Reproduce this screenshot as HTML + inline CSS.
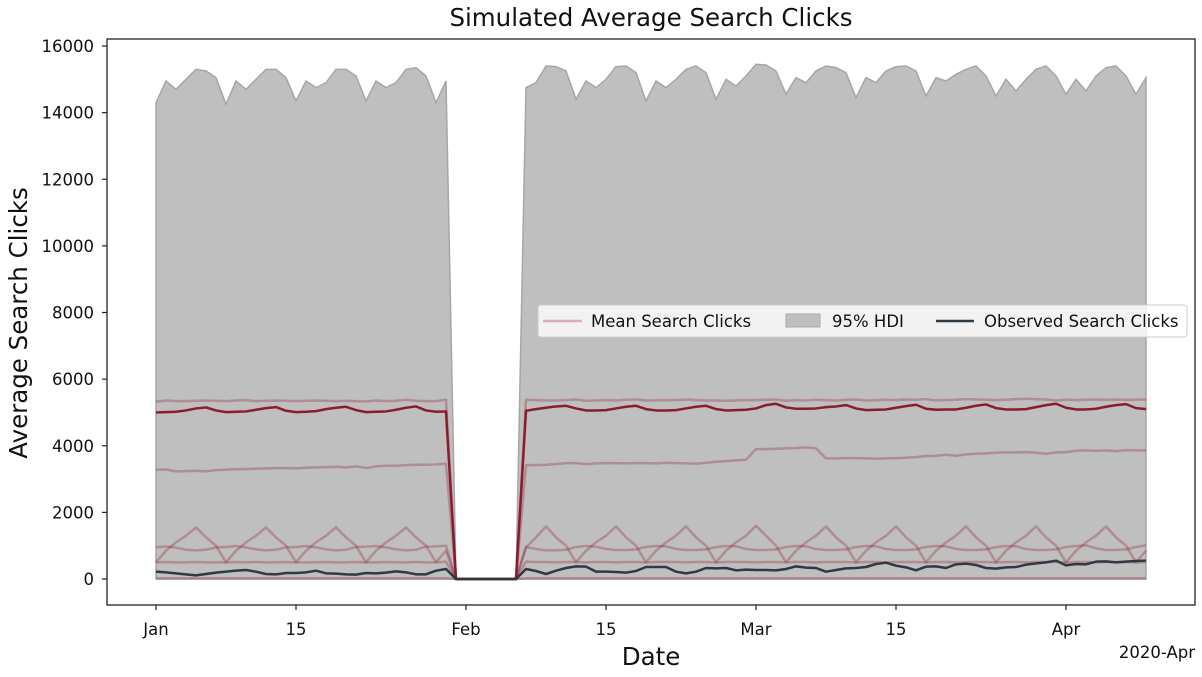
<!DOCTYPE html>
<html><head><meta charset="utf-8"><style>
body{margin:0;background:#fff;}
svg{display:block;font-family:"DejaVu Sans","Liberation Sans",sans-serif;}
</style></head><body>
<svg id="chart" width="1202" height="677">
<text x="651" y="26" text-anchor="middle" font-size="24.5" fill="#111">Simulated Average Search Clicks</text>
<g id="plot"></g>
<rect x="107" y="39" width="1088" height="566" fill="none" stroke="#222" stroke-width="1.3"/>
<g id="yaxis"></g>
<g id="xaxis"></g>
<text x="651" y="665" text-anchor="middle" font-size="24.5" fill="#111">Date</text>
<text x="1157" y="658" text-anchor="middle" font-size="16.5" fill="#111">2020-Apr</text>
<text transform="translate(27,323) rotate(-90)" text-anchor="middle" font-size="24.5" fill="#111">Average Search Clicks</text>
<g>
<rect x="538" y="305" width="649" height="32" rx="3" fill="#fff" fill-opacity="0.8" stroke="#ccc"/>
<line x1="543" y1="321" x2="582" y2="321" stroke="#d6aeb4" stroke-width="2.5"/>
<text x="591" y="327" font-size="16.5" fill="#111">Mean Search Clicks</text>
<rect x="786" y="314" width="34" height="13" fill="#bfbfbf" stroke="#a8a8a8"/>
<text x="832" y="327" font-size="16.5" fill="#111">95% HDI</text>
<line x1="936" y1="321" x2="974" y2="321" stroke="#2e3a44" stroke-width="2.5"/>
<text x="984" y="327" font-size="16.5" fill="#111">Observed Search Clicks</text>
</g>
</svg>
<script>
const hdiHigh=[14300,14950,14700,15000,15300,15250,15050,14250,14950,14700,15000,15300,15300,15050,14350,14950,14750,14900,15300,15300,15100,14350,14950,14750,14900,15300,15350,15100,14300,14950,
0,0,0,0,0,0,0,
14750,14900,15400,15380,15250,14400,14950,14750,15000,15380,15400,15200,14350,14950,14750,15000,15300,15400,15200,14400,15000,14800,15100,15450,15430,15250,14550,15050,14900,15250,15400,15350,15200,14450,15050,14900,15250,15380,15400,15250,14500,15050,14950,15150,15300,15400,15100,14500,15000,14650,15000,15300,15400,15100,14550,15000,14650,15100,15350,15400,15100,14550,15050];
const meanClicks=[5000,5010,5020,5060,5120,5150,5060,5010,5020,5030,5080,5130,5160,5050,5010,5020,5040,5100,5140,5170,5070,5010,5020,5030,5080,5140,5180,5060,5020,5030,
0,0,0,0,0,0,0,
5050,5100,5140,5180,5200,5120,5060,5060,5070,5120,5170,5200,5100,5060,5060,5070,5120,5170,5200,5100,5060,5070,5080,5120,5220,5260,5150,5110,5110,5120,5160,5180,5220,5120,5070,5080,5090,5140,5190,5230,5110,5080,5090,5090,5140,5200,5240,5130,5090,5090,5100,5160,5220,5260,5140,5090,5090,5110,5170,5220,5250,5130,5100];
const sampleHigh=[5320,5360,5340,5340,5350,5360,5350,5340,5360,5370,5340,5350,5360,5350,5340,5350,5360,5350,5340,5350,5340,5330,5360,5340,5350,5380,5350,5340,5340,5380,
0,0,0,0,0,0,0,
5380,5370,5360,5360,5370,5390,5350,5360,5370,5360,5380,5390,5360,5360,5370,5370,5390,5370,5360,5360,5350,5360,5370,5370,5380,5390,5350,5370,5360,5380,5370,5360,5380,5390,5360,5370,5380,5370,5390,5380,5400,5360,5370,5380,5400,5390,5380,5370,5380,5400,5410,5400,5390,5360,5380,5370,5380,5390,5380,5390,5380,5380,5390];
const sampleMid=[3280,3290,3230,3240,3250,3230,3270,3280,3300,3300,3310,3320,3330,3330,3320,3340,3350,3360,3370,3350,3380,3330,3380,3400,3400,3420,3430,3430,3440,3460,
0,0,0,0,0,0,0,
3420,3420,3430,3450,3480,3480,3450,
3470,3480,3480,3470,3480,3480,3470,
3490,3480,3470,3460,3490,3520,3540,
3560,3580,3900,3900,3910,3920,3930,
3950,3920,3620,3620,3630,3630,3620,
3610,3620,3630,3640,3660,3690,3700,
3730,3700,3740,3760,3770,3790,3800,
3800,3810,3790,3760,3800,3810,3850,
3860,3850,3860,3840,3870,3860,3860];
const sampleWave=[950,980,940,880,860,880,950,960,990,950,890,860,880,950,960,990,950,890,860,880,960,970,990,950,890,860,880,970,980,1000,
0,0,0,0,0,0,0,
960,900,860,860,880,960,990,970,900,870,870,890,960,990,980,900,870,870,890,960,990,980,900,870,870,890,960,990,980,900,870,870,890,960,990,980,900,870,870,890,960,990,980,900,870,870,890,960,990,980,900,870,870,890,960,990,1010,920,870,870,890,960,1010];
const sampleZig=[500,850,1100,1300,1550,1250,1000,500,850,1100,1300,1550,1250,1000,500,850,1100,1300,1550,1250,1000,500,850,1100,1300,1550,1250,1000,500,850,
0,0,0,0,0,0,0,
950,1250,1580,1250,1000,500,850,1100,1300,1580,1250,1000,500,850,1100,1300,1580,1250,1000,500,850,1100,1300,1600,1300,1000,500,850,1100,1300,1580,1250,1000,500,850,1100,1300,1580,1250,1000,500,850,1100,1300,1580,1250,1000,500,850,1100,1300,1580,1250,1000,500,850,1100,1300,1580,1250,1000,500,850];
const sampleLow=[500,510,500,500,510,500,500,500,510,500,510,500,500,510,500,500,500,510,500,500,510,500,500,510,500,500,510,500,500,520,
0,0,0,0,0,0,0,
520,510,510,500,510,510,500,510,510,500,510,510,500,510,510,510,500,510,510,500,510,510,510,500,510,510,500,510,510,500,510,510,510,500,510,510,500,510,510,510,500,510,510,500,510,510,510,500,510,510,500,510,510,510,500,510,510,500,510,510,510,500,510];
const sampleZero=[20,20,20,20,20,20,20,20,20,20,20,20,20,20,20,20,20,20,20,20,20,20,20,20,20,20,20,20,20,20,
0,0,0,0,0,0,0,
20,20,20,20,20,20,20,20,20,20,20,20,20,20,20,20,20,20,20,20,20,20,20,20,20,20,20,20,20,20,20,20,20,20,20,20,20,20,20,20,20,20,20,20,20,20,20,20,20,20,20,20,20,20,20,20,20,20,20,20,20,20,20];
const observed=[220,200,170,140,110,150,190,220,250,270,220,150,140,180,180,200,250,170,160,140,130,180,170,190,230,200,140,140,250,300,
0,0,0,0,0,0,0,
300,240,150,250,330,380,370,
220,220,210,190,240,360,360,
360,220,170,220,330,320,330,
260,280,270,270,260,300,380,
340,330,220,270,320,330,360,
450,490,400,350,260,370,380,
330,440,460,420,330,310,350,
360,430,470,500,550,410,450,
440,520,530,500,520,540,550];
const yTicks=[0,2000,4000,6000,8000,10000,12000,14000,16000];
const xTickDays=[0,14,31,45,60,74,91];
const xTickLabels=["Jan","15","Feb","15","Mar","15","Apr"];

const NS="http://www.w3.org/2000/svg";
const X=d=>156+10*d;
const Y=v=>579-v*533/16000;
function mk(tag,attrs,parent){const e=document.createElementNS(NS,tag);for(const k in attrs)e.setAttribute(k,attrs[k]);parent.appendChild(e);return e;}
const plot=document.getElementById('plot');
let d="M"+X(0)+","+Y(0);
hdiHigh.forEach((v,i)=>{d+=" L"+X(i)+","+Y(v);});
d+=" L"+X(hdiHigh.length-1)+","+Y(0)+" Z";
const band=mk('path',{d:d,fill:'#bfbfbf',stroke:'#a6a6a6','stroke-width':1.5},plot);


function line(arr,color,w,op,name){
  const p=arr.map((v,i)=>(i?"L":"M")+X(i)+","+Y(v)).join(" ");
  const e=mk('path',{d:p,fill:'none',stroke:color,'stroke-width':w,'stroke-opacity':op,'stroke-linejoin':'round'},plot);
  
  
}
line(sampleZero,'#8b1c2c',2.5,0.3,'sample-line-zero');
line(sampleLow,'#8b1c2c',2.5,0.3,'sample-line-low');
line(sampleWave,'#8b1c2c',2.5,0.3,'sample-line-wave');
line(sampleZig,'#8b1c2c',2.5,0.3,'sample-line-zigzag');
line(sampleMid,'#8b1c2c',2.5,0.3,'sample-line-mid');
line(sampleHigh,'#8b1c2c',2.5,0.3,'sample-line-high');
line(meanClicks,'#8b1c2c',2.5,1,'mean-line');
line(observed,'#2e3a44',2.5,1,'observed-line');
const ya=document.getElementById('yaxis');
yTicks.forEach(v=>{
  const t=mk('line',{x1:102,x2:107,y1:Y(v),y2:Y(v),stroke:'#222','stroke-width':1.2},ya);
  
  
  const l=mk('text',{x:94,y:Y(v)+6,'text-anchor':'end','font-size':16.5,fill:'#111'},ya);
  l.textContent=v;
  
  
});
const xa=document.getElementById('xaxis');
xTickDays.forEach((dd,i)=>{
  const t=mk('line',{x1:X(dd),x2:X(dd),y1:605,y2:610,stroke:'#222','stroke-width':1.2},xa);
  
  
  const l=mk('text',{x:X(dd),y:635,'text-anchor':'middle','font-size':16.5,fill:'#111'},xa);
  l.textContent=xTickLabels[i];
  
  
});
</script>
</body></html>
